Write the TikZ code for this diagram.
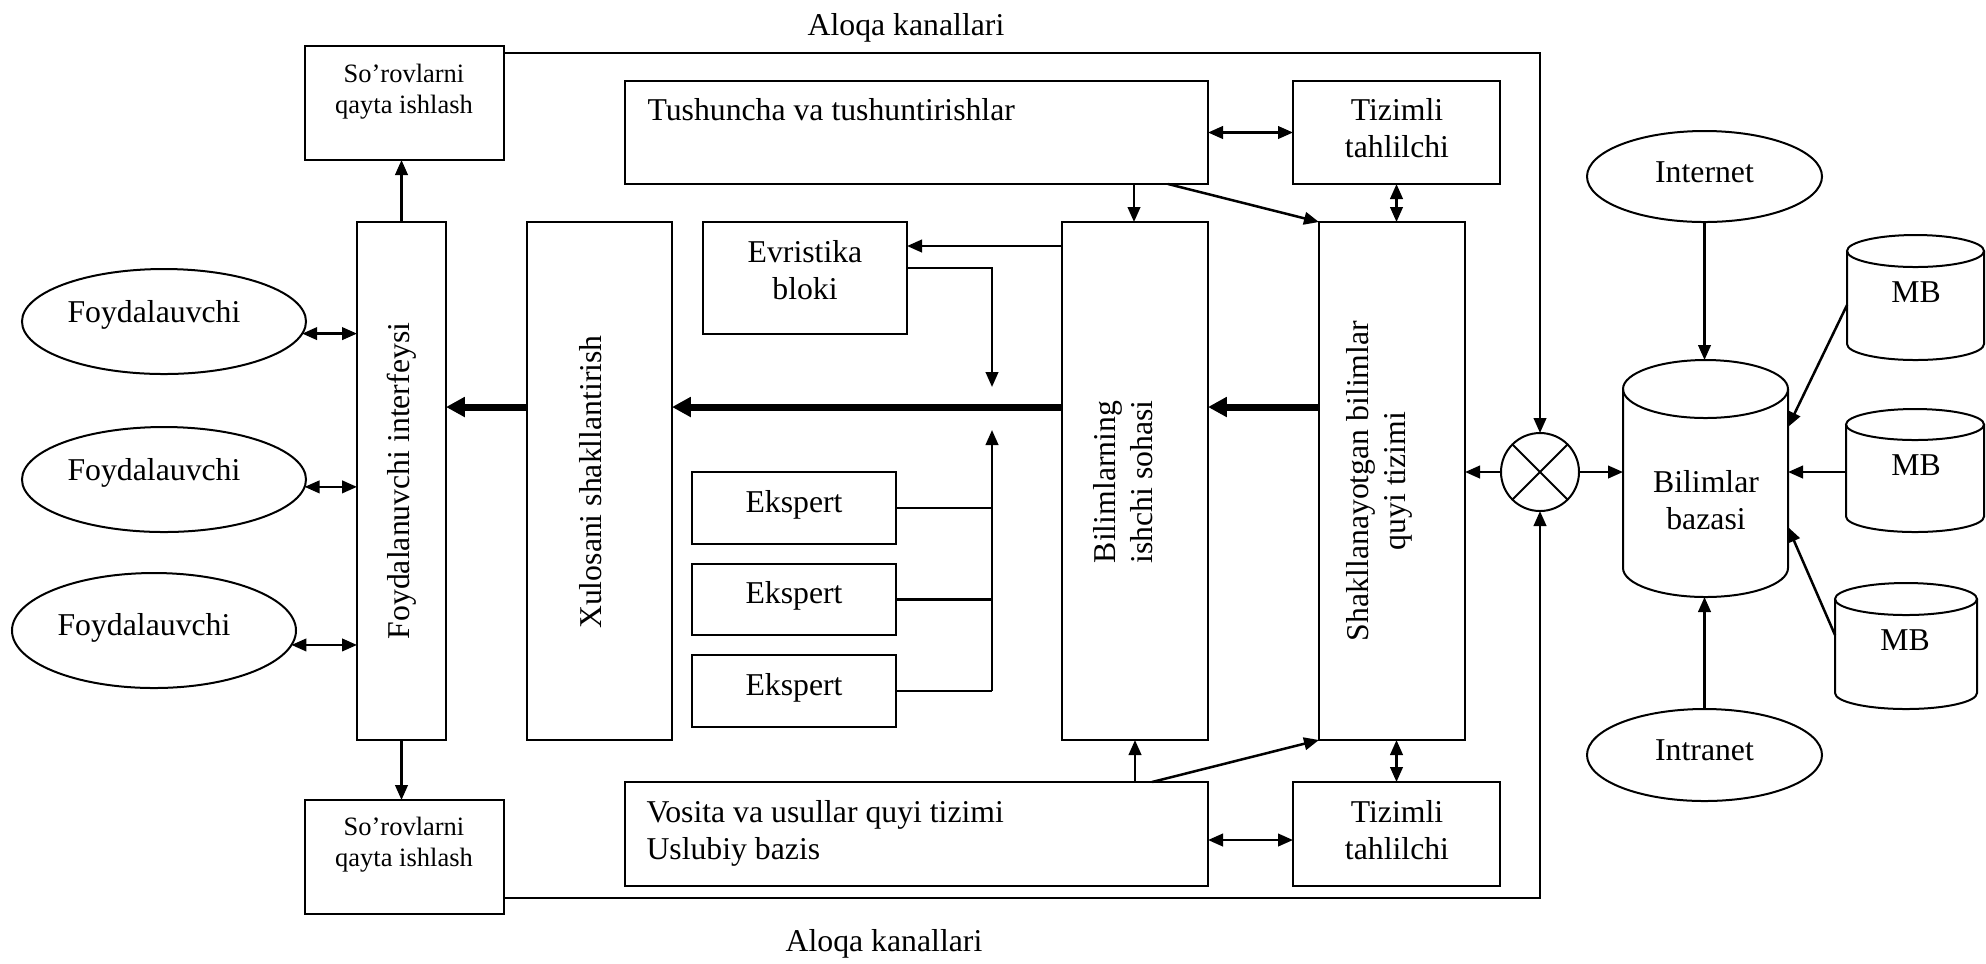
\documentclass[tikz,border=0pt]{standalone}
\usepackage{fontspec}
\setmainfont{Liberation Serif}
\usetikzlibrary{arrows.meta,fit,calc,shapes.geometric}
\newcommand\drawcyl[3]{%
  \draw[shapeline] ([yshift=-#3]#1.north west) -- ([yshift=#3]#1.south west)
    arc[start angle=180,end angle=360,x radius=#2,y radius=#3]
    -- ([yshift=-#3]#1.north east);
  \draw[shapeline] ([yshift=-#3]#1.north) ellipse[x radius=#2,y radius=#3];}
\begin{document}
\begin{tikzpicture}[x=0.4pt,y=-0.4pt,
  shapeline/.style={line width=0.8pt},
  blk/.style={draw,line width=0.8pt,inner sep=0pt,outer sep=0pt,rectangle},
  area/.style={inner sep=0pt,outer sep=0pt,rectangle},
  txt/.style={inner sep=0pt,font=\fontsize{12.7pt}{14.8pt}\selectfont},
  smalltxt/.style={inner sep=0pt,align=center,font=\fontsize{10.6pt}{12.4pt}\selectfont},
  oval/.style={draw,ellipse,line width=0.8pt,inner sep=0pt,outer sep=0pt},
  con/.style={line width=1pt},
  arr/.style={con,-{Triangle[length=6pt,width=5pt]}},
  dbl/.style={con,{Triangle[length=6pt,width=5pt]}-{Triangle[length=6pt,width=5pt]}},
  bigarr/.style={line width=2.8pt,-{Triangle[length=7.5pt,width=7.6pt]}}]
\useasboundingbox (0,0) rectangle (1986,963);

% channel labels
\node[txt,anchor=base] (ch1) at (906,35) {Aloqa kanallari};
\node[txt,anchor=base] (ch2) at (884,951) {Aloqa kanallari};

% request processing boxes
\node[blk,fit={(305,46) (504,160)}] (SQT) {};
\node[smalltxt,anchor=north] (SQTt) at (404,64) {So’rovlarni\\qayta ishlash};
\node[blk,fit={(305,800) (504,914)}] (SQB) {};
\node[smalltxt,anchor=north] (SQBt) at (404,817) {So’rovlarni\\qayta ishlash};

% users
\node[oval,minimum width=113.6pt,minimum height=42pt] (U1) at (164,321.5) {};
\node[txt,anchor=base] (U1t) at (154,322) {Foydalauvchi};
\node[oval,minimum width=113.6pt,minimum height=42pt] (U2) at (164,479.5) {};
\node[txt,anchor=base] (U2t) at (154,480) {Foydalauvchi};
\node[oval,minimum width=113.6pt,minimum height=46pt] (U3) at (154,630.5) {};
\node[txt,anchor=base] (U3t) at (144,635) {Foydalauvchi};

% tall blocks
\node[blk,fit={(357,222) (446,740)}] (FI) {};
\node[txt,rotate=90] (FIt) at (402,481) {Foydalanuvchi interfeysi};
\node[blk,fit={(527,222) (672,740)}] (XS) {};
\node[txt,rotate=90] (XSt) at (591,482) {Xulosani shakllantirish};
\node[blk,fit={(1062,222) (1208,740)}] (BIS) {};
\node[txt,rotate=90,align=center] (BISt) at (1123,482) {Bilimlarning\\ishchi sohasi};
\node[blk,fit={(1319,222) (1465,740)}] (SBQ) {};
\node[txt,rotate=90,align=center] (SBQt) at (1379,481) {Shakllanayotgan bilimlar\\quyi tizimi};

% top row
\node[blk,fit={(625,81) (1208,184)}] (TT) {};
\node[txt,anchor=base west] (TTt) at (647,120) {Tushuncha va tushuntirishlar};
\node[blk,fit={(1293,81) (1500,184)}] (TZ1) {};
\node[txt,anchor=north,align=center] (TZ1t) at (1397,98.3) {Tizimli\\tahlilchi};

% bottom row
\node[blk,fit={(625,782) (1208,886)}] (VS) {};
\node[txt,anchor=north west,align=left] (VSt) at (646,800.3) {Vosita va usullar quyi tizimi\\Uslubiy bazis};
\node[blk,fit={(1293,782) (1500,886)}] (TZ2) {};
\node[txt,anchor=north,align=center] (TZ2t) at (1397,800.3) {Tizimli\\tahlilchi};

% heuristics and experts
\node[blk,fit={(703,222) (907,334)}] (EV) {};
\node[txt,anchor=north,align=center] (EVt) at (805,240.3) {Evristika\\bloki};
\node[blk,fit={(692,472) (896,544)}] (E1) {};
\node[txt,anchor=base] (E1t) at (794,512) {Ekspert};
\node[blk,fit={(692,564) (896,635)}] (E2) {};
\node[txt,anchor=base] (E2t) at (794,603.5) {Ekspert};
\node[blk,fit={(692,655) (896,727)}] (E3) {};
\node[txt,anchor=base] (E3t) at (794,695) {Ekspert};

% mixer
\node[draw,circle,line width=0.8pt,minimum size=31.2pt,inner sep=0pt,outer sep=0pt] (X) at (1540,472) {};
\draw[shapeline] (X.45) -- (X.225) (X.135) -- (X.315);

% knowledge base and sources
\node[area,fit={(1623,360) (1788,597)}] (BB) {};
\drawcyl{BB}{33pt}{11.6pt}
\node[txt,anchor=north,align=center] (BBt) at (1706,470.3) {Bilimlar\\bazasi};
\node[area,fit={(1847,235) (1984,360)}] (MB1) {};
\drawcyl{MB1}{27.4pt}{6.4pt}
\node[txt,anchor=base] (MB1t) at (1916,302) {MB};
\node[area,fit={(1846,409) (1984,532)}] (MB2) {};
\drawcyl{MB2}{27.6pt}{6.2pt}
\node[txt,anchor=base] (MB2t) at (1916,475) {MB};
\node[area,fit={(1835,583) (1977,709)}] (MB3) {};
\drawcyl{MB3}{28.4pt}{6.4pt}
\node[txt,anchor=base] (MB3t) at (1905,650) {MB};
\node[oval,minimum width=94pt,minimum height=36.4pt] (IN) at (1704.5,176.5) {};
\node[txt,anchor=base] (INt) at (1704.5,182) {Internet};
\node[oval,minimum width=94pt,minimum height=36.8pt] (IR) at (1704.5,755) {};
\node[txt,anchor=base] (IRt) at (1704.5,760) {Intranet};

\coordinate (mainline) at (0,407);
\coordinate (evtip) at (992,387);
\coordinate (extip) at (992,430);

% connectors: user side
\draw[dbl] (U1.-5) -- (U1.-5 -| FI.west);
\draw[dbl] (U2.-3) -- (U2.-3 -| FI.west);
\draw[dbl] (U3.-6) -- (U3.-6 -| FI.west);
\draw[arr] (FI.north) -- (FI.north |- SQT.south);
\draw[arr] (FI.south) -- (FI.south |- SQB.north);

% thick main flow
\draw[bigarr] (XS.west |- mainline) -- (FI.east |- mainline);
\draw[bigarr] (BIS.west |- mainline) -- (XS.east |- mainline);
\draw[bigarr] (SBQ.west |- mainline) -- (BIS.east |- mainline);

% heuristics and experts
\draw[arr] (BIS.west |- 0,246) -- (EV.east |- 0,246);
\draw[arr] (EV.east |- 0,268) -| (evtip);
\draw[con] (E1.east) -- (E1.east -| extip);
\draw[con] (E2.east) -- (E2.east -| extip);
\draw[con] (E3.east) -- (E3.east -| extip);
\draw[arr] (E3.east -| extip) -- (extip);

% top and bottom rows
\draw[arr] (1134,0 |- TT.south) -- (1134,0 |- BIS.north);
\draw[arr] (1168,0 |- TT.south) -- (SBQ.north west);
\draw[dbl] (TT.east) -- (TZ1.west);
\draw[dbl] (TZ1.south) -- (TZ1.south |- SBQ.north);
\draw[arr] (1135,0 |- VS.north) -- (1135,0 |- BIS.south);
\draw[arr] (1152,0 |- VS.north) -- (SBQ.south west);
\draw[dbl] (VS.east |- 0,840) -- (TZ2.west |- 0,840);
\draw[dbl] (TZ2.north) -- (TZ2.north |- SBQ.south);

% communication channels
\draw[arr] ($(SQT.north east)+(0,7)$) -| (X.north);
\draw[arr] ($(SQB.south east)+(0,-16)$) -| (X.south);
\draw[arr] (X.west) -- (X.west -| SBQ.east);
\draw[arr] (X.east) -- (X.east -| BB.west);

% knowledge base inputs
\draw[arr] (IN.south) -- (IN.south |- BB.north);
\draw[arr] (IR.north) -- (IR.north |- BB.south);
\draw[arr] (MB1.west |- 0,305) -- (BB.east |- 0,427);
\draw[arr] (MB2.west |- 0,472) -- (BB.east |- 0,472);
\draw[arr] (MB3.west |- 0,635) -- (BB.east |- 0,527);
\end{tikzpicture}
\end{document}
